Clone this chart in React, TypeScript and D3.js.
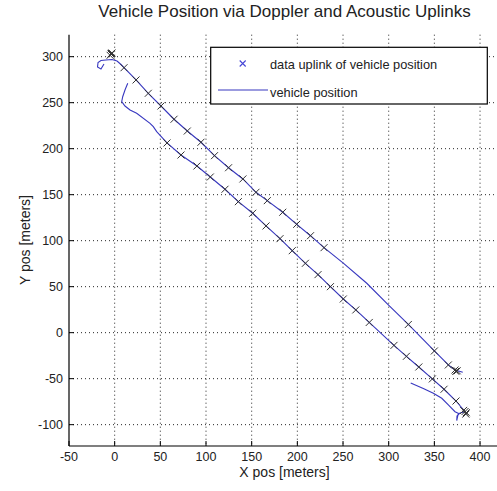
import React from "react";
import * as d3 from "d3";

const W = 497;
const H = 491;

const xTicks = [-50, 0, 50, 100, 150, 200, 250, 300, 350, 400];
const yTicks = [-100, -50, 0, 50, 100, 150, 200, 250, 300];

// Navigation track 1: start loop + upper leg
const navUpperX = [-11.7, -15.0, -18.8, -18.2, -15.0, -9.5, -2.9, 2.6, 6.9, 10.2, 23.4, 36.8, 50.7, 65.0, 79.5, 94.5, 109.3, 124.7, 140.4, 154.7, 167.1, 184.0, 199.3, 214.4, 229.2, 250.3, 276.0, 299.6, 321.5, 350.0, 365.3, 372.6, 381.1];
const navUpperY = [292.1, 286.6, 288.8, 293.7, 295.9, 296.4, 297.0, 295.3, 291.5, 288.0, 274.7, 260.2, 246.4, 232.0, 219.2, 207.0, 192.4, 179.3, 167.1, 152.6, 143.5, 130.9, 117.8, 105.4, 92.4, 75.6, 53.7, 30.1, 8.9, -19.9, -35.1, -40.6, -43.1];

// Navigation track 2: short bottom piece + lower leg back up
const navLowerX = [324.1, 337.9, 348.9, 358.1, 365.3, 372.6, 376.2, 374.5, 374.8, 378.1, 383.6, 373.7, 360.6, 347.8, 333.0, 319.4, 305.8, 278.7, 264.0, 250.3, 236.2, 222.6, 208.8, 194.4, 181.0, 165.7, 151.1, 135.4, 120.8, 104.7, 90.1, 72.6, 57.3, 46.0, 42.3, 38.7, 24.1, 16.8, 11.3, 7.7, 8.8, 11.3, 14.3];
const navLowerY = [-54.7, -60.7, -65.9, -71.3, -78.6, -85.9, -87.6, -95.5, -90.6, -87.3, -85.9, -74.3, -61.5, -50.3, -37.3, -25.7, -13.8, 11.1, 24.7, 36.6, 50.0, 63.1, 75.4, 89.1, 102.2, 116.0, 129.8, 142.4, 155.9, 169.2, 181.2, 193.1, 206.2, 218.5, 223.9, 227.6, 238.5, 242.1, 246.4, 251.1, 256.5, 263.8, 271.1];

// Acoustic uplinks of vehicle position
const uplinkX = [-4.0, -3.0, -5.0, -3.5, 10.2, 23.4, 36.8, 50.7, 65.0, 79.5, 94.5, 109.3, 124.7, 140.4, 154.7, 167.1, 184.0, 199.3, 214.4, 229.2, 321.5, 350.0, 365.3, 372.6, 375.0, 373.5,
  57.3, 72.6, 90.1, 104.7, 120.8, 135.4, 151.1, 165.7, 181.0, 194.4, 208.8, 222.6, 236.2, 250.3, 264.0, 278.7, 305.8, 319.4, 333.0, 347.8, 360.6, 373.7, 383.6, 385.0, 382.0, 384.5];
const uplinkY = [302.9, 304.0, 301.5, 303.5, 288.0, 274.7, 260.2, 246.4, 232.0, 219.2, 207.0, 192.4, 179.3, 167.1, 152.6, 143.5, 130.9, 117.8, 105.4, 92.4, 8.9, -19.9, -35.1, -40.6, -41.5, -42.0,
  206.2, 193.1, 181.2, 169.2, 155.9, 142.4, 129.8, 116.0, 102.2, 89.1, 75.4, 63.1, 50.0, 36.6, 24.7, 11.1, -13.8, -25.7, -37.3, -50.3, -61.5, -74.3, -85.7, -87.0, -84.5, -88.5];

const legendLabels = ["data uplink of vehicle position", "vehicle position"];

const FONT = "'Liberation Sans', Arial, Helvetica, sans-serif";
const NAV = "#3838c0";
const MARK = "#333333";

export default function App() {
  const left = 69, right = 498.3, top = 34.7, bottom = 446;
  const x = d3.scaleLinear().domain([-50, 420]).range([left, right]);
  const y = d3.scaleLinear().domain([-123.2, 323.9]).range([bottom, top]);

  const line = d3.line<[number, number]>().x(d => x(d[0])).y(d => y(d[1]));
  const upper: [number, number][] = navUpperX.map((v, i) => [v, navUpperY[i]]);
  const lower: [number, number][] = navLowerX.map((v, i) => [v, navLowerY[i]]);

  const m = 3.5;
  const cross = (cx: number, cy: number, s: number) =>
    `M${cx - s},${cy - s}L${cx + s},${cy + s}M${cx - s},${cy + s}L${cx + s},${cy - s}`;

  return (
    <svg width={W} height={H} style={{ position: "absolute", left: 0, top: 0, background: "#fff" }} fontFamily={FONT}>
      <rect x={0} y={0} width={W} height={H} fill="#fff" />
      {/* grid */}
      {xTicks.filter(t => t > -50).map(t => (
        <line key={"gx" + t} x1={x(t)} x2={x(t)} y1={top} y2={bottom} stroke="#000" strokeWidth={1} strokeDasharray="1,3" opacity={0.85} />
      ))}
      {yTicks.map(t => (
        <line key={"gy" + t} x1={left} x2={W} y1={y(t)} y2={y(t)} stroke="#000" strokeWidth={1} strokeDasharray="1,3" opacity={0.85} />
      ))}
      {/* data */}
      <path d={line(upper) || ""} fill="none" stroke={NAV} strokeWidth={1.1} />
      <path d={line(lower) || ""} fill="none" stroke={NAV} strokeWidth={1.1} />
      {uplinkX.map((v, i) => (
        <path key={"u" + i} d={cross(x(v), y(uplinkY[i]), m)} stroke={MARK} strokeWidth={1} fill="none" />
      ))}
      {/* axes */}
      <line x1={left} x2={left} y1={top} y2={bottom} stroke="#000" strokeWidth={1.2} />
      <line x1={left} x2={W} y1={bottom} y2={bottom} stroke="#000" strokeWidth={1.2} />
      {xTicks.map(t => (
        <g key={"tx" + t}>
          <line x1={x(t)} x2={x(t)} y1={bottom} y2={bottom - 5} stroke="#000" strokeWidth={1} />
          <text x={x(t)} y={461} textAnchor="middle" fontSize={12.5} fill="#222">{t}</text>
        </g>
      ))}
      {yTicks.map(t => (
        <g key={"ty" + t}>
          <line x1={left} x2={left + 5} y1={y(t)} y2={y(t)} stroke="#000" strokeWidth={1} />
          <text x={63} y={y(t)} dy="0.36em" textAnchor="end" fontSize={12.5} fill="#222">{t}</text>
        </g>
      ))}
      {/* labels */}
      <text x={284.5} y={17} textAnchor="middle" fontSize={17} fill="#222">Vehicle Position via Doppler and Acoustic Uplinks</text>
      <text x={284.5} y={477} textAnchor="middle" fontSize={14} fill="#222">X pos [meters]</text>
      <text transform={`translate(30,240) rotate(-90)`} textAnchor="middle" fontSize={14} fill="#222">Y pos [meters]</text>
      {/* legend */}
      <rect x={210.7} y={47.3} width={276.6} height={56.7} fill="#fff" stroke="#000" strokeWidth={1.2} />
      <path d={cross(242.7, 63.5, 3)} stroke="#4646d6" strokeWidth={1.1} fill="none" />
      <text x={270} y={68.5} fontSize={12.8} fill="#222">{legendLabels[0]}</text>
      <line x1={218} x2={268} y1={90} y2={90} stroke={NAV} strokeWidth={1.2} />
      <text x={270} y={97} fontSize={12.8} fill="#222">{legendLabels[1]}</text>
    </svg>
  );
}
